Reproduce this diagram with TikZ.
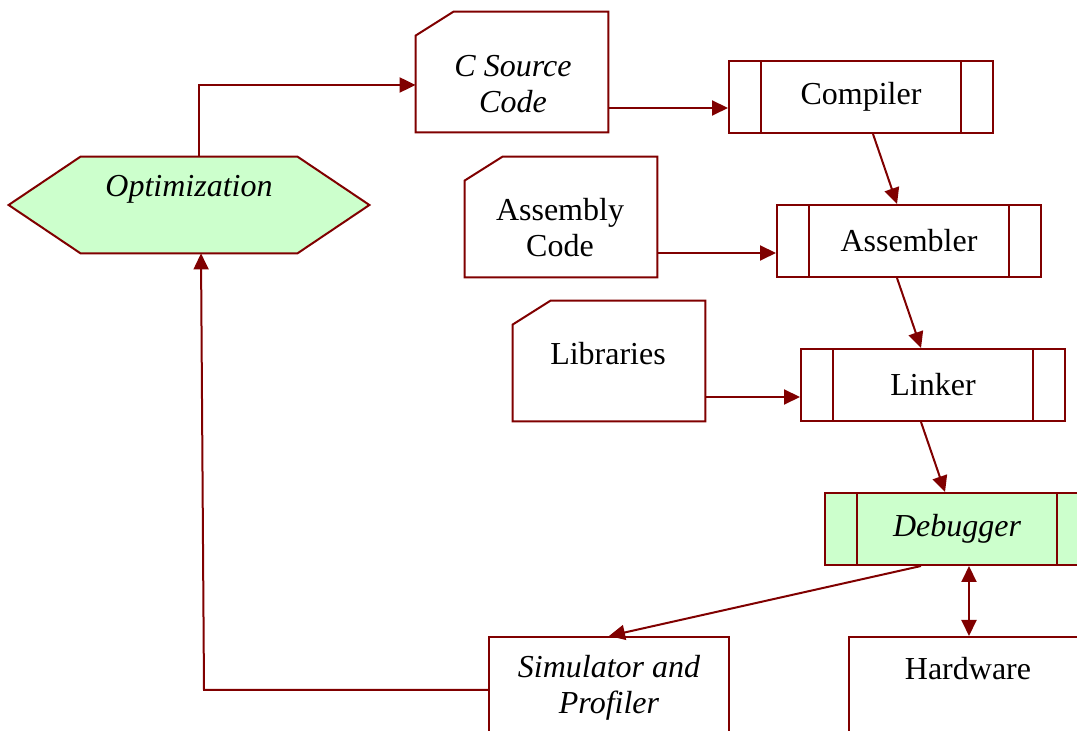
\documentclass[tikz,border=0pt]{standalone}
\usepackage{fontspec}
\setmainfont{Liberation Serif}
\usetikzlibrary{arrows.meta}
\definecolor{dred}{RGB}{128,0,0}
\definecolor{lgreen}{RGB}{204,255,204}
% outline of a document box, top left corner cut off
\newcommand{\docframe}[1]{\draw[line] (#1.south west) -- ([yshift=-12pt]#1.north west) -- ([xshift=19pt]#1.north west) -- (#1.north east) -- (#1.south east) -- cycle;}
\tikzset{
  line/.style={draw=dred, line width=1pt},
  tip/.tip={Triangle[length=8pt,width=7.5pt]},
  flow/.style={line, -tip},
  txt/.style={font=\fontsize{16}{18}\selectfont, align=center, inner sep=0pt},
  itxt/.style={txt, font=\fontsize{16}{18}\selectfont\itshape},
  docbox/.style={minimum width=96pt, minimum height=60pt, inner sep=0pt},
  plainbox/.style={line, minimum width=120pt, minimum height=60pt, inner sep=0pt},
  procbox/.style={line, minimum width=132pt, minimum height=36pt, inner sep=0pt,
    font=\fontsize{16}{18}\selectfont,
    path picture={\draw[line] ([xshift=16pt]path picture bounding box.north west) -- ([xshift=16pt]path picture bounding box.south west)
      ([xshift=-16pt]path picture bounding box.north east) -- ([xshift=-16pt]path picture bounding box.south east);}},
}
\begin{document}
\begin{tikzpicture}[x=0.5pt, y=-0.5pt]
\useasboundingbox (0,0) rectangle (1077,731);
\clip (0,0) rectangle (1077,731);
% optimization hexagon
\node[minimum width=180pt, minimum height=48pt, inner sep=0pt] (opt) at (189,205) {};
\draw[line, fill=lgreen] (opt.west) -- ([xshift=36pt]opt.north west) -- ([xshift=-36pt]opt.north east) -- (opt.east)
  -- ([xshift=-36pt]opt.south east) -- ([xshift=36pt]opt.south west) -- cycle;
\node[itxt] (optt) at (189,189) {Optimization};
% documents
\node[docbox] (src) at (512,72) {};
\docframe{src}
\node[itxt] (srct) at (513,84) {C Source\\Code};
\node[docbox] (asm) at (561,217) {};
\docframe{asm}
\node[txt] (asmt) at (560,228) {Assembly\\Code};
\node[docbox] (lib) at (609,361) {};
\docframe{lib}
\node[txt] (libt) at (608,354) {Libraries};
% tool chain
\node[procbox] (comp) at (861,97) {Compiler};
\node[procbox] (asmb) at (909,241) {Assembler};
\node[procbox] (link) at (933,385) {Linker};
\node[procbox, fill=lgreen, font=\fontsize{16}{18}\selectfont\itshape] (dbg) at (957,529) {Debugger};
% targets
\node[plainbox] (sim) at (609,697) {};
\node[itxt] (simt) at (609,688) {Simulator and\\Profiler};
\node[plainbox] (hw) at (969,697) {};
\node[txt] (hwt) at (968,669) {Hardware};
% connectors
\draw[flow] ([xshift=5pt]opt.north) |- ([yshift=-6.5pt]src.west);
\draw[flow] ([yshift=-18pt]src.east) -- ([yshift=-18pt]src.east -| comp.west);
\draw[flow] ([xshift=6pt]comp.south) -- ([xshift=-6pt]asmb.north);
\draw[flow] ([yshift=-18pt]asm.east) -- ([yshift=-18pt]asm.east -| asmb.west);
\draw[flow] ([xshift=-6pt]asmb.south) -- ([xshift=-6pt]link.north);
\draw[flow] ([yshift=-18pt]lib.east) -- ([yshift=-18pt]lib.east -| link.west);
\draw[flow] ([xshift=-6pt]link.south) -- ([xshift=-6pt]dbg.north);
\draw[flow] ([xshift=-18pt]dbg.south) -- (sim.north);
\draw[flow, tip-tip] ([xshift=6pt]dbg.south) -- (hw.north);
\draw[flow] ([yshift=3.5pt]sim.west) -- ++(-142pt,0) -- ([xshift=6pt]opt.south);
\end{tikzpicture}
\end{document}
